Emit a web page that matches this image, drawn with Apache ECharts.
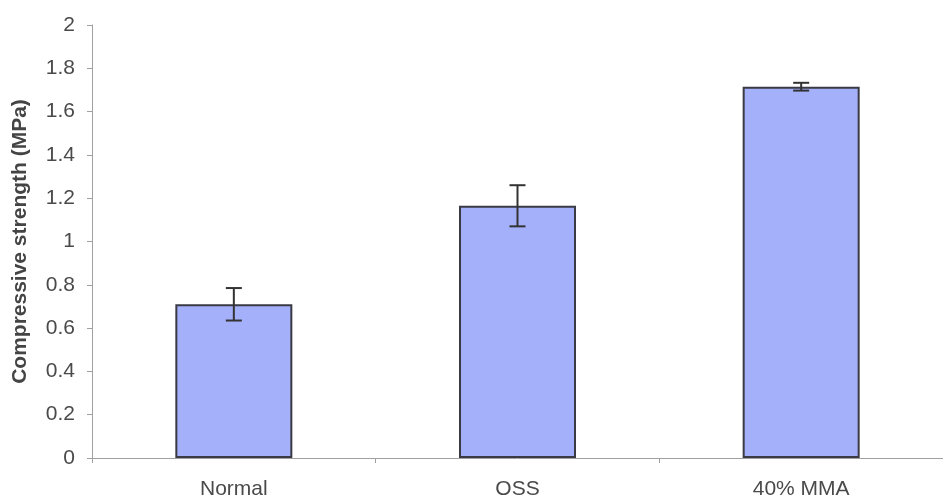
<!DOCTYPE html>
<html>
<head>
<meta charset="utf-8">
<script src="https://cdn.jsdelivr.net/npm/echarts@6/dist/echarts.min.js"></script>
<style>html,body{margin:0;padding:0;background:#fff;}#c{width:943px;height:502px;}</style>
</head>
<body>
<div id="c"></div>
<script>
const categories = ["Normal", "OSS", "40% MMA"];
const values = [0.71, 1.165, 1.715];
const errors = [0.075, 0.095, 0.018];
const yTicks = [0, 0.2, 0.4, 0.6, 0.8, 1, 1.2, 1.4, 1.6, 1.8, 2];

const chart = echarts.init(document.getElementById('c'), null, {renderer: 'canvas'});
const errData = categories.map((c, i) => [i, values[i] - errors[i], values[i] + errors[i]]);

chart.setOption({
  animation: false,
  backgroundColor: '#ffffff',
  grid: {left: 92, right: -9, top: 25, bottom: 44, containLabel: false},
  xAxis: {
    type: 'category',
    data: categories,
    axisLine: {lineStyle: {color: '#a0a0a0', width: 1}},
    axisTick: {show: true, length: 5, lineStyle: {color: '#a0a0a0'}},
    axisLabel: {color: '#4a4a4a', fontSize: 21, fontFamily: 'Liberation Sans, Arial', margin: 21}
  },
  yAxis: {
    type: 'value',
    min: yTicks[0], max: yTicks[yTicks.length - 1], interval: 0.2,
    name: 'Compressive strength (MPa)',
    nameLocation: 'middle',
    nameGap: 61,
    nameTextStyle: {color: '#444', fontSize: 21, fontWeight: 'bold', fontFamily: 'Liberation Sans, Arial'},
    axisLine: {show: true, lineStyle: {color: '#a0a0a0', width: 1}},
    axisTick: {show: true, length: 5, lineStyle: {color: '#a0a0a0'}},
    splitLine: {show: false},
    axisLabel: {color: '#4a4a4a', fontSize: 21, fontFamily: 'Liberation Sans, Arial', margin: 17}
  },
  series: [
    {
      type: 'bar',
      data: values,
      barWidth: 117,
      itemStyle: {color: '#a4b0fa', borderColor: '#3a3a44', borderWidth: 2}
    },
    {
      type: 'custom',
      data: errData,
      z: 10,
      renderItem: function (params, api) {
        const x = api.value(0);
        const lo = api.coord([x, api.value(1)]);
        const hi = api.coord([x, api.value(2)]);
        const half = 8;
        const style = {stroke: '#333', lineWidth: 2, fill: null};
        return {
          type: 'group',
          children: [
            {type: 'line', shape: {x1: lo[0], y1: lo[1], x2: hi[0], y2: hi[1]}, style: style},
            {type: 'line', shape: {x1: lo[0] - half, y1: lo[1], x2: lo[0] + half, y2: lo[1]}, style: style},
            {type: 'line', shape: {x1: hi[0] - half, y1: hi[1], x2: hi[0] + half, y2: hi[1]}, style: style}
          ]
        };
      }
    }
  ]
});
</script>
</body>
</html>
